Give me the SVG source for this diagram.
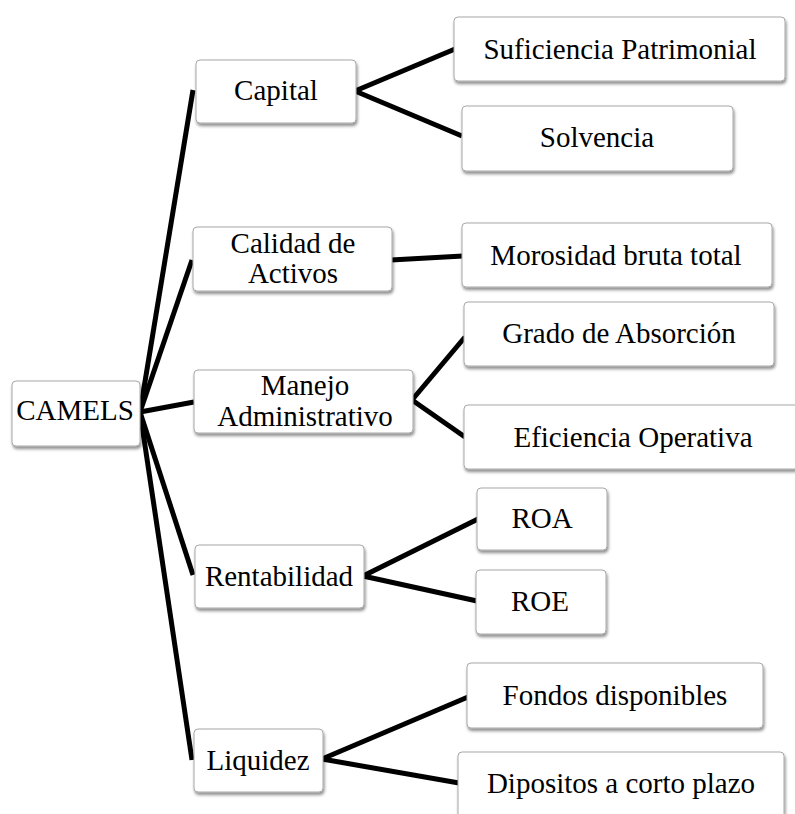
<svg xmlns="http://www.w3.org/2000/svg" width="795" height="814" viewBox="0 0 795 814">
<defs>
<filter id="sh" x="-10%" y="-20%" width="130%" height="150%">
<feDropShadow dx="1" dy="2.5" stdDeviation="1.6" flood-color="#000" flood-opacity="0.45"/>
</filter>
<style>
.box{fill:#fff;stroke:#a8a8a8;stroke-width:1;filter:url(#sh)}
.t{font-size:29px;fill:#000;text-anchor:middle}
.c line{stroke:#000;stroke-width:5;stroke-linecap:butt}
</style>
</defs>
<rect width="795" height="814" fill="#fff"/>
<g id="connectors" class="c">
<line x1="140" y1="412" x2="193" y2="90"/>
<line x1="140" y1="412" x2="192" y2="260"/>
<line x1="140" y1="412" x2="194" y2="402"/>
<line x1="140" y1="412" x2="193" y2="575"/>
<line x1="140" y1="412" x2="192" y2="760"/>
<line x1="355" y1="91" x2="455" y2="49"/>
<line x1="355" y1="91" x2="462" y2="136"/>
<line x1="391" y1="260" x2="463" y2="256"/>
<line x1="412" y1="400" x2="465" y2="337"/>
<line x1="412" y1="400" x2="465" y2="437"/>
<line x1="363" y1="576" x2="478" y2="519"/>
<line x1="363" y1="576" x2="477" y2="601"/>
<line x1="322" y1="759" x2="468" y2="697"/>
<line x1="322" y1="759" x2="459" y2="783"/>
</g>
<g font-family="Liberation Serif, 'Times New Roman', 'DejaVu Serif', serif">
<g id="camels"><rect class="box" x="12" y="381" width="128" height="65" rx="4"/><text class="t" x="75" y="420">CAMELS</text></g>
<g id="capital"><rect class="box" x="196" y="60" width="160" height="63" rx="4"/><text class="t" x="276" y="100">Capital</text></g>
<g id="suficiencia"><rect class="box" x="454" y="17" width="331" height="64" rx="4"/><text class="t" x="620" y="59">Suficiencia Patrimonial</text></g>
<g id="solvencia"><rect class="box" x="462" y="106" width="271" height="65" rx="4"/><text class="t" x="597" y="147">Solvencia</text></g>
<g id="calidad"><rect class="box" x="193" y="227" width="199" height="64" rx="4"/><text class="t" x="293" y="253">Calidad de</text><text class="t" x="293" y="283">Activos</text></g>
<g id="morosidad"><rect class="box" x="462" y="223" width="310" height="64" rx="4"/><text class="t" x="616" y="265">Morosidad bruta total</text></g>
<g id="manejo"><rect class="box" x="194" y="370" width="219" height="63" rx="4"/><text class="t" x="305" y="395">Manejo</text><text class="t" x="305" y="426">Administrativo</text></g>
<g id="grado"><rect class="box" x="464" y="302" width="310" height="64" rx="4"/><text class="t" x="619" y="343">Grado de Absorción</text></g>
<g id="eficiencia"><rect class="box" x="464" y="405" width="340" height="64" rx="4"/><text class="t" x="633" y="447">Eficiencia Operativa</text></g>
<g id="rentabilidad"><rect class="box" x="195" y="545" width="169" height="63" rx="4"/><text class="t" x="279" y="586">Rentabilidad</text></g>
<g id="roa"><rect class="box" x="477" y="488" width="130" height="62" rx="4"/><text class="t" x="542" y="528">ROA</text></g>
<g id="roe"><rect class="box" x="476" y="570" width="130" height="64" rx="4"/><text class="t" x="540" y="611">ROE</text></g>
<g id="liquidez"><rect class="box" x="194" y="729" width="129" height="63" rx="4"/><text class="t" x="258" y="770">Liquidez</text></g>
<g id="fondos"><rect class="box" x="467" y="663" width="296" height="65" rx="4"/><text class="t" x="615" y="705">Fondos disponibles</text></g>
<g id="dipositos"><rect class="box" x="458" y="752" width="326" height="70" rx="4"/><text class="t" x="621" y="793">Dipositos a corto plazo</text></g>
</g>
</svg>
